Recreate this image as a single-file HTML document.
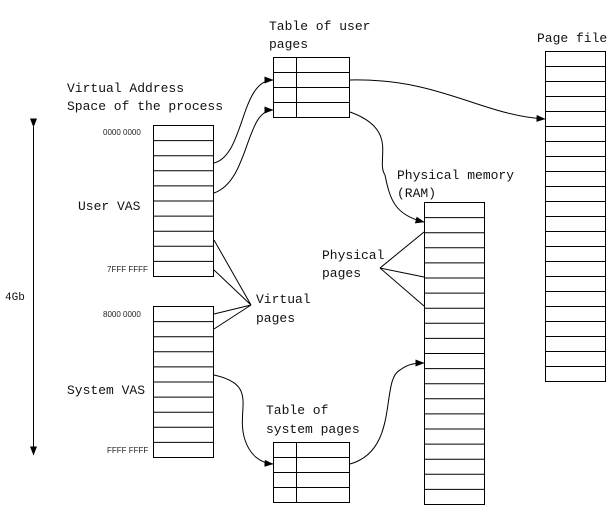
<!DOCTYPE html>
<html><head><meta charset="utf-8"><style>
html,body{margin:0;padding:0;background:#fff;width:611px;height:510px;overflow:hidden}
svg{display:block}
text{font-family:"Liberation Mono","DejaVu Sans Mono",monospace;font-size:13px;fill:#111}
.s{font-family:"Liberation Sans",sans-serif;font-size:8px;fill:#222}
</style></head><body>
<svg width="611" height="510" viewBox="0 0 611 510" xmlns="http://www.w3.org/2000/svg">
<defs><marker id="a" markerWidth="9" markerHeight="7" refX="8.5" refY="3.5" orient="auto" markerUnits="userSpaceOnUse"><path d="M0,0 L9,3.5 L0,7z" fill="#000"/></marker></defs>
<g fill="none" stroke="#000" stroke-width="1">
<rect x="153.5" y="125.5" width="60" height="151"/>
<path d="M153.5 140.6H213.5M153.5 155.7H213.5M153.5 170.8H213.5M153.5 185.9H213.5M153.5 201H213.5M153.5 216.1H213.5M153.5 231.2H213.5M153.5 246.3H213.5M153.5 261.4H213.5"/>
<rect x="153.5" y="306.5" width="60" height="151"/>
<path d="M153.5 321.6H213.5M153.5 336.7H213.5M153.5 351.8H213.5M153.5 366.9H213.5M153.5 382H213.5M153.5 397.1H213.5M153.5 412.2H213.5M153.5 427.3H213.5M153.5 442.4H213.5"/>
<rect x="273.5" y="57.5" width="76" height="60"/>
<path d="M273.5 72.5H349.5M273.5 87.5H349.5M273.5 102.5H349.5M296.5 57.5V117.5"/>
<rect x="273.5" y="442.5" width="76" height="60"/>
<path d="M273.5 457.5H349.5M273.5 472.5H349.5M273.5 487.5H349.5M296.5 442.5V502.5"/>
<rect x="424.5" y="202.5" width="60" height="302"/>
<path d="M424.5 217.6H484.5M424.5 232.7H484.5M424.5 247.8H484.5M424.5 262.9H484.5M424.5 278H484.5M424.5 293.1H484.5M424.5 308.2H484.5M424.5 323.3H484.5M424.5 338.4H484.5M424.5 353.5H484.5M424.5 368.6H484.5M424.5 383.7H484.5M424.5 398.8H484.5M424.5 413.9H484.5M424.5 429H484.5M424.5 444.1H484.5M424.5 459.2H484.5M424.5 474.3H484.5M424.5 489.4H484.5"/>
<rect x="545.5" y="51.5" width="60" height="330"/>
<path d="M545.5 66.5H605.5M545.5 81.5H605.5M545.5 96.5H605.5M545.5 111.5H605.5M545.5 126.5H605.5M545.5 141.5H605.5M545.5 156.5H605.5M545.5 171.5H605.5M545.5 186.5H605.5M545.5 201.5H605.5M545.5 216.5H605.5M545.5 231.5H605.5M545.5 246.5H605.5M545.5 261.5H605.5M545.5 276.5H605.5M545.5 291.5H605.5M545.5 306.5H605.5M545.5 321.5H605.5M545.5 336.5H605.5M545.5 351.5H605.5M545.5 366.5H605.5"/>
<path d="M33.5 127V455" marker-end="url(#a)" marker-start="url(#a)"/>
<path d="M214 163C245 155 240 80 273 80" marker-end="url(#a)"/>
<path d="M214 193C250 180 245 110 273 110" marker-end="url(#a)"/>
<path d="M350 80C440 78 480 115 545 119" marker-end="url(#a)"/>
<path d="M350 112C400 130 375 160 385 175C390 200 395 215 424 222" marker-end="url(#a)"/>
<path d="M214 375C260 385 235 410 245 440C250 455 260 463 273 464" marker-end="url(#a)"/>
<path d="M350 464C400 450 380 380 400 370C408 364 415 363 424 363" marker-end="url(#a)"/>
<path d="M214 240L251 305L214 270M214 314L251 305L214 329"/>
<path d="M380 268L424 232M380 268L424 277M380 268L424 306"/>
</g>
<text x="269" y="30">Table of user</text>
<text x="269" y="48">pages</text>
<text x="537" y="42">Page file</text>
<text x="67" y="92">Virtual Address</text>
<text x="67" y="110">Space of the process</text>
<text x="78" y="210">User VAS</text>
<text x="67" y="394">System VAS</text>
<text x="256" y="303">Virtual</text>
<text x="256" y="322">pages</text>
<text x="322" y="259">Physical</text>
<text x="322" y="277">pages</text>
<text x="397" y="179">Physical memory</text>
<text x="397" y="197">(RAM)</text>
<text x="266" y="414">Table of</text>
<text x="266" y="433">system pages</text>
<text x="5" y="300" style="font-size:11px">4Gb</text>
<text class="s" x="103" y="135">0000 0000</text>
<text class="s" x="107" y="272">7FFF FFFF</text>
<text class="s" x="103" y="317">8000 0000</text>
<text class="s" x="107" y="453">FFFF FFFF</text>
</svg>
</body></html>
